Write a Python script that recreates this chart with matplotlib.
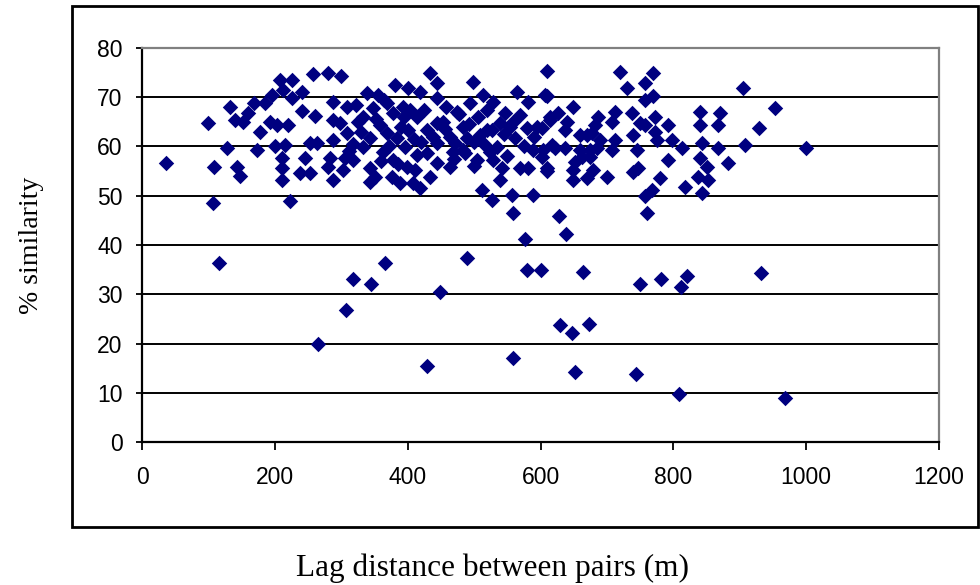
import matplotlib
matplotlib.use("Agg")
import matplotlib.pyplot as plt
from matplotlib.patches import Rectangle

# Lag distance (m) and % similarity
lag_m = [
    36, 99, 108, 107, 116, 132, 128, 140, 152, 160, 143, 148, 173, 169, 185, 178, 193, 196,
    208, 226, 212, 226, 241, 241, 220, 203, 200, 215, 211, 211, 211, 223, 238, 253, 245, 253,
    263, 261, 257, 280, 288, 288, 288, 283, 280, 288, 300,
    381, 401, 419, 444, 444, 339, 355, 309, 298, 309, 333, 348, 369, 378, 393, 414, 358, 343,
    369, 384, 401, 429, 444, 444, 306, 318, 303, 343, 351, 343, 363, 378, 396, 414, 429, 444,
    399, 411, 376, 389, 408, 419,
    434, 498, 565, 581, 434, 464, 453, 474, 483, 464, 471, 486, 505, 494, 506, 514, 529, 509,
    527, 535, 529, 542, 539, 512, 527, 557, 559, 589, 577, 569, 581, 589, 562, 554, 580, 569,
    547, 325, 333, 404, 366, 489,
    607, 539, 520, 559, 595, 614, 489, 617, 468, 483, 524, 610,
    610, 720, 770, 730, 758, 770, 758, 610, 649, 627, 614, 640, 637, 602, 687, 682, 712, 708,
    738, 739, 758, 773, 773, 776, 792, 798, 840, 840, 870, 867, 843, 867, 882, 813, 792, 840,
    851, 837, 852, 843, 818, 780, 768, 758, 760, 745, 747, 739, 712, 708, 700, 685, 690, 670,
    660, 675, 660, 663, 649, 649, 670, 610, 622, 637, 604, 602, 628, 639, 664,
    750, 678, 675, 652, 679,
    905, 953, 929, 908, 1000, 932,
    318, 345, 307, 265, 449, 429, 559, 580, 600, 750, 782, 821, 812, 630, 647, 673, 652, 744,
    809, 968,
    322, 352, 365, 390, 410, 425, 330, 372, 395, 438, 456, 478, 500, 520, 545, 458, 493, 515,
    318, 360, 386, 420, 470, 500, 550, 575, 590, 312,
]
similarity = [
    56.6, 64.8, 55.8, 48.5, 36.3, 68.0, 59.7, 65.4, 65.0, 66.8, 55.8, 54.0, 59.3, 68.8, 68.8, 63.0, 65.0, 70.5,
    73.5, 73.5, 71.5, 69.8, 71.0, 67.2, 64.4, 64.4, 60.0, 60.3, 57.7, 55.6, 53.2, 49.0, 54.6, 54.6, 57.7, 60.7,
    60.7, 66.2, 74.7, 75.0, 69.0, 65.4, 61.3, 57.7, 55.8, 53.2, 74.3,
    72.5, 71.9, 71.1, 72.9, 69.8, 70.9, 70.5, 68.0, 64.8, 62.7, 66.0, 67.8, 68.8, 66.8, 68.0, 66.0, 64.4, 61.7,
    62.7, 61.7, 63.4, 63.4, 64.8, 60.7, 57.7, 57.3, 55.2, 55.6, 53.8, 52.8, 58.9, 57.3, 59.9, 58.3, 58.7, 56.6,
    55.8, 55.2, 53.8, 52.6, 52.6, 51.6,
    75.0, 73.0, 71.0, 69.0, 53.8, 55.8, 65.0, 67.0, 64.0, 62.0, 60.7, 58.7, 57.3, 68.8, 66.0, 70.5, 69.0, 62.3,
    63.4, 59.9, 57.3, 55.6, 53.2, 51.2, 49.1, 50.2, 46.5, 50.2, 41.2, 55.6, 55.6, 59.3, 61.7, 64.0, 63.8, 66.4,
    66.8, 65.0, 59.9, 67.4, 36.3, 37.4,
    70.5, 64.8, 63.4, 65.0, 64.0, 66.0, 61.7, 60.3, 58.9, 59.3, 58.9, 55.6,
    75.3, 75.1, 74.9, 71.9, 72.9, 70.3, 69.4, 70.3, 68.0, 66.8, 65.4, 65.0, 63.4, 63.8, 66.0, 64.4, 67.0, 65.0,
    66.8, 62.3, 64.4, 66.0, 63.0, 61.3, 64.4, 61.3, 67.0, 64.4, 66.8, 64.4, 60.7, 59.7, 56.6, 59.7, 57.3, 57.7,
    55.8, 53.8, 53.2, 50.6, 51.8, 53.6, 51.2, 50.0, 46.5, 59.3, 55.6, 54.8, 61.3, 59.3, 53.8, 59.7, 61.3, 62.3,
    62.3, 59.3, 59.3, 57.9, 55.2, 53.2, 53.6, 55.0, 59.7, 59.7, 59.3, 57.9, 45.9, 42.2, 34.5,
    64.8, 62.7, 57.9, 56.9, 55.2,
    71.9, 67.8, 63.8, 60.3, 59.7, 34.3,
    33.1, 32.1, 26.8, 19.9, 30.5, 15.4, 17.1, 35.0, 35.0, 32.1, 33.1, 33.7, 31.5, 23.8, 22.1, 24.0, 14.2, 13.8,
    9.7, 8.9,
    68.5, 65.5, 69.5, 64.0, 61.5, 67.5, 63.0, 60.0, 66.0, 62.0, 63.5, 66.5, 61.0, 67.5, 62.5, 68.0, 64.5, 60.5,
    60.5, 57.0, 56.5, 61.0, 57.5, 56.0, 58.0, 60.0, 62.0, 59.0,
]

x_ticks = [0, 200, 400, 600, 800, 1000, 1200]
y_ticks = [0, 10, 20, 30, 40, 50, 60, 70, 80]

fig = plt.figure(figsize=(9.8, 5.85), dpi=100)
ax = fig.add_axes([0.1449, 0.2444, 0.8133, 0.6736])

ax.scatter(lag_m, similarity, marker="D", s=62, color="#000080", linewidths=0, zorder=3)

ax.set_xlim(0, 1200)
ax.set_ylim(0, 80)
ax.set_xticks(x_ticks)
ax.set_yticks(y_ticks)
ax.set_axisbelow(True)
ax.grid(axis="y", color="black", linewidth=1.4)

for side in ["left", "bottom"]:
    ax.spines[side].set_color("black")
    ax.spines[side].set_linewidth(1.6)
for side in ["top", "right"]:
    ax.spines[side].set_color("#808080")
    ax.spines[side].set_linewidth(1.6)

ax.tick_params(axis="y", direction="out", length=4, width=1.3, pad=10)
ax.tick_params(axis="x", direction="out", length=6, width=1.3, pad=11)
for lab in ax.get_xticklabels() + ax.get_yticklabels():
    lab.set_family("Liberation Sans")
    lab.set_fontsize(16.5)

fig.text(492 / 980, 1 - 568 / 585, "Lag distance between pairs (m)", family="Liberation Serif",
         fontsize=22.5, ha="center", va="center")
fig.text(31 / 980, 1 - 245 / 585, "% similarity", family="Liberation Serif",
         fontsize=20, ha="center", va="center", rotation=90)

# outer chart frame
fig.patches.append(Rectangle((72 / 980, 1 - 527 / 585), 906 / 980, 521 / 585,
                             transform=fig.transFigure, fill=False, edgecolor="black", linewidth=2))

fig.savefig("out.png", dpi=100)
